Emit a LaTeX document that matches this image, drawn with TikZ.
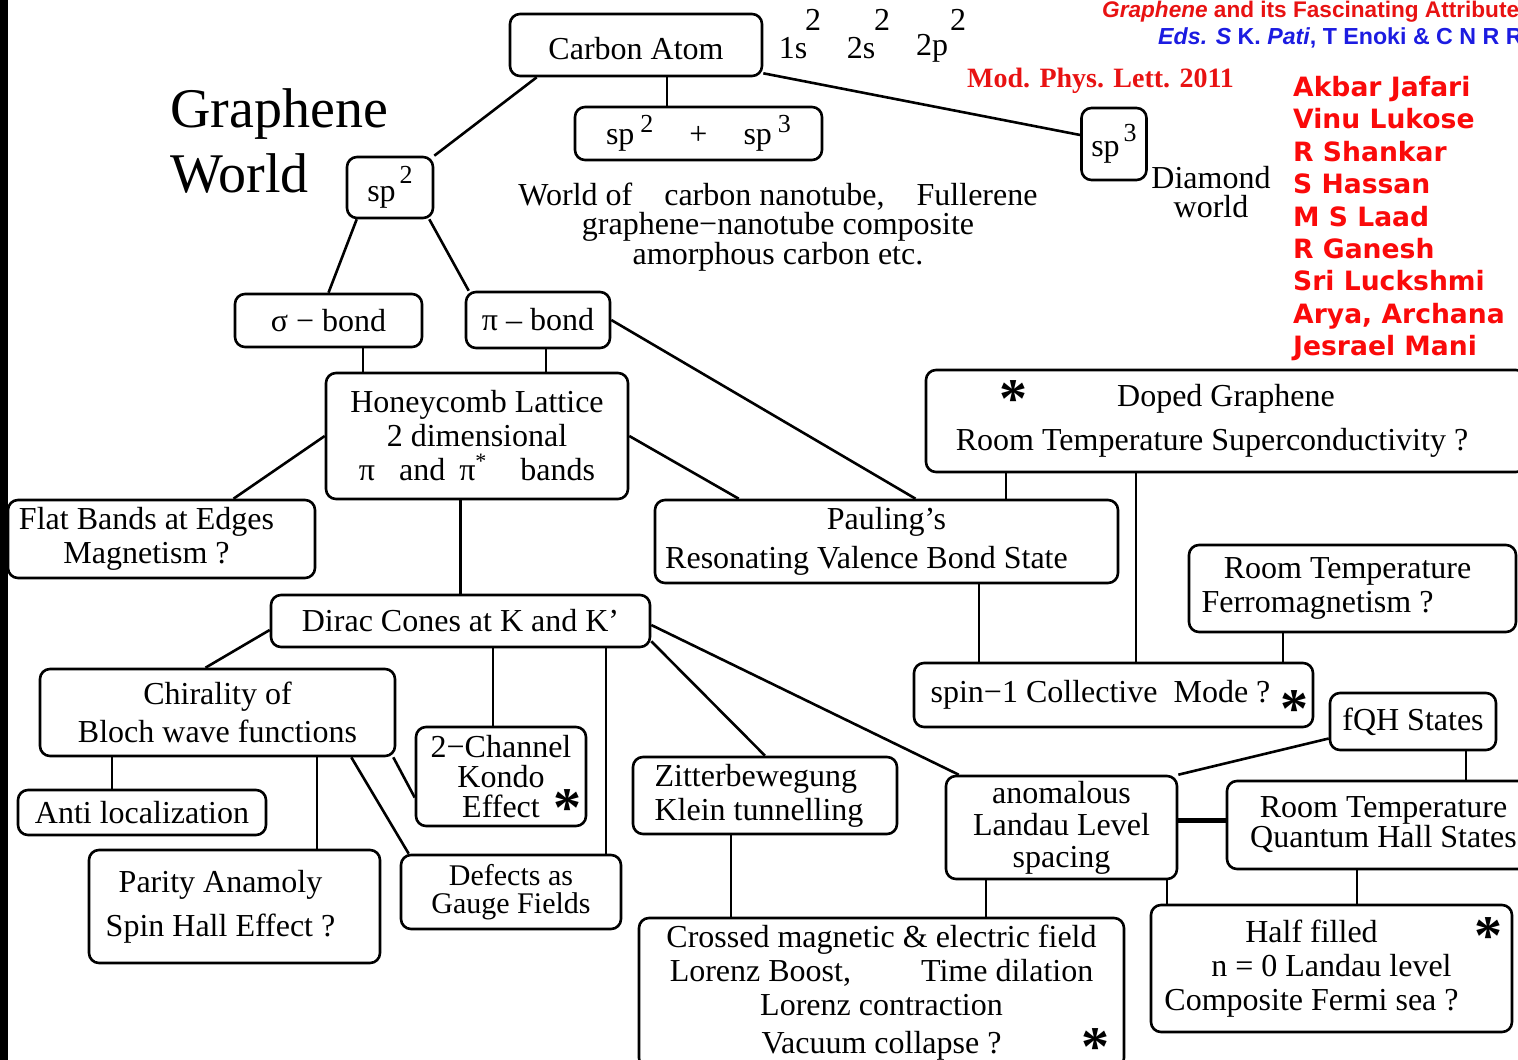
\documentclass[tikz,border=0pt]{standalone}
\usepackage{fontspec}
\setmainfont{Liberation Serif}
\newfontfamily\namefont{DejaVu Sans}
\newfontfamily\headfont{Liberation Sans}
\newcommand{\setfs}[2]{\fontsize{#1}{#2}\selectfont}
\newcommand{\sups}[2][12pt]{\raisebox{#1}{\setfs{26}{26}#2}}
\definecolor{titlered}{RGB}{232,18,18}
\definecolor{edsblue}{RGB}{28,28,225}
\definecolor{namered}{RGB}{250,10,10}
\tikzset{
  box/.style={draw, line width=2.6pt, rounded corners=10pt, inner sep=0pt, align=center, font=\setfs{32}{34}},
  dims/.style 2 args={minimum width=#1pt, minimum height=#2pt},
  link/.style={line width=2.6pt},
  plain/.style={inner sep=0pt, align=center, font=\setfs{32}{34}},
  astk/.style={inner sep=0pt, font=\setfs{56}{56}\bfseries},
}
\begin{document}
\begin{tikzpicture}[x=1pt, y=-1pt]
  \useasboundingbox (0,0) rectangle (1518,1060);
  \clip (0,0) rectangle (1518,1060);
  \fill (0,0) rectangle (8,1060);

  % headings
  \node[anchor=west, inner sep=0pt, align=left, font=\setfs{56}{65}] (title) at (170,141) {Graphene\\World};
  \node[anchor=base west, inner sep=0pt, text=titlered, font=\headfont\setfs{22.6}{22}\bfseries] (book) at (1102,17) {\textit{Graphene} and its Fascinating Attributes};
  \node[anchor=base west, inner sep=0pt, text=edsblue, font=\headfont\setfs{23.2}{22}\bfseries] (eds) at (1158,44) {\textit{Eds. S} K. \textit{Pati}, T Enoki \& C N R Rao};
  \node[anchor=west, inner sep=0pt, text=titlered, font=\setfs{28}{28}\bfseries] (journal) at (967,81) {Mod. Phys. Lett. 2011};
  \node[anchor=north west, inner sep=0pt, align=left, text=namered, font=\namefont\setfs{26.6}{32.4}\bfseries] (authors) at (1293,76)
    {Akbar Jafari\\Vinu Lukose\\R Shankar\\S Hassan\\M S Laad\\R Ganesh\\Sri Luckshmi\\Arya, Archana\\Jesrael Mani};

  % carbon and hybrids
  \node[box, dims={252}{62}] (carbon) at (636,45) {\raisebox{-3pt}[22pt][0pt]{Carbon Atom}};
  \foreach \x/\u/\o in {793/813/1s, 861/882/2s, 932/958/2p} {
    \node[plain] (cfg\o) at (\x,48) {\o};
    \node[plain] (up\o) at (\u,20) {2};
  }
  \node[box, dims={247}{53}] (mix) at (698.5,133.5) {sp\hspace{6pt}\sups{2}\hspace{36pt}+\hspace{36pt}sp\hspace{6pt}\sups{3}};
  \node[box, dims={86}{61}] (sptwo) at (390,187.5) {sp\hspace{4pt}\sups[18pt]{2}};
  \node[box, dims={65}{72}] (spthree) at (1114,144) {sp\hspace{4pt}\sups[15pt]{3}};
  \node[plain, font=\setfs{32}{29.5}] (worlds) at (778,227) {World of\quad carbon nanotube,\quad Fullerene\\graphene−nanotube composite\\amorphous carbon etc.};
  \node[plain, font=\setfs{32}{29}] (diamond) at (1211,192) {Diamond\\world};

  % bonds and lattice
  \node[box, dims={187}{53}] (sigma) at (328.5,320.5) {σ − bond};
  \node[box, dims={144}{56}] (pib) at (538,320) {π – bond};
  \node[box, dims={302}{126}] (honey) at (477,436) {Honeycomb Lattice\\2 dimensional\\π\hspace{24pt}and\hspace{14pt}π\raisebox{12pt}{\setfs{22}{22}*}\hspace{34pt}bands};
  \node[box, dims={307}{78}] (flat) at (161.5,539) {Flat Bands at Edges\hspace*{30pt}\\Magnetism ?\hspace*{30pt}};
  \node[box, dims={463}{83}] (pauling) at (886.5,541.5) {Pauling’s\\[5pt]Resonating Valence Bond State\hspace*{40pt}};
  \node[box, dims={600}{102}] (doped) at (1226,421) {Doped Graphene\\[10pt]Room Temperature Superconductivity ?\hspace*{28pt}};
  \node[box, dims={327}{87}] (ferro) at (1352.5,588.5) {Room Temperature\hspace*{10pt}\\Ferromagnetism ?\hspace*{70pt}};
  \node[box, dims={379}{52}] (dirac) at (460.5,621) {Dirac Cones at K and K’};
  \node[box, dims={399}{64}] (spin) at (1113.5,695) {spin−1 Collective\ \ Mode ?\hspace{26pt}};
  \node[box, dims={166}{57}] (fqh) at (1413,721.5) {fQH States};

  % lower level
  \node[box, dims={355}{87}] (chiral) at (217.5,712.5) {Chirality of\\[4pt]Bloch wave functions};
  \node[box, dims={170}{99}, font=\setfs{32}{30}] (kondo) at (501,776.5) {2−Channel\\Kondo\\Effect};
  \node[box, dims={264}{77}, align=left] (zitter) at (765,795.5) {Zitterbewegung\\Klein tunnelling\hspace*{12pt}};
  \node[box, dims={231}{103}, font=\setfs{32}{32}] (anom) at (1061.5,827.5) {anomalous\\Landau Level\\spacing};
  \node[box, dims={313}{88}, font=\setfs{32}{29}] (rtqh) at (1383.5,825) {Room Temperature\\Quantum Hall States};
  \node[box, dims={248}{45}] (anti) at (142,812.5) {Anti localization};
  \node[box, dims={291}{113}] (parity) at (234.5,906.5) {Parity Anamoly\hspace*{28pt}\\[10pt]Spin Hall Effect ?\hspace*{28pt}};
  \node[box, dims={220}{74}, font=\setfs{30}{28}] (defects) at (511,892) {Defects as\\Gauge Fields};
  \node[box, dims={485}{150}] (crossed) at (881.5,993) {Crossed magnetic \& electric field\\Lorenz Boost,\hspace{70pt}Time dilation\\Lorenz contraction\\[4pt]Vacuum collapse ?};
  \node[box, dims={361}{127}] (half) at (1331.5,968.5) {Half filled\hspace*{40pt}\\n = 0 Landau level\hspace*{40pt}\\Composite Fermi sea ?\hspace*{40pt}};

  % stars
  \node[astk] (stdoped) at (1013,399) {*};
  \node[astk] (stspin) at (1294,709) {*};
  \node[astk] (stkondo) at (567,808) {*};
  \node[astk] (stcrossed) at (1095,1047) {*};
  \node[astk] (sthalf) at (1488,936) {*};

  % connectors
  \draw[link] ([xshift=28pt]carbon.south west) -- (sptwo.north east);
  \draw[link] (carbon.south -| 667,0) -- (mix.north -| 667,0);
  \draw[link] ([yshift=4pt]carbon.south east) -- ([yshift=9pt]spthree.west);
  \draw[link] ([xshift=11pt]sptwo.south west) -- (sigma.north);
  \draw[link] ([xshift=-5pt]sptwo.south east) -- ([xshift=4pt]pib.north west);
  \draw[link] (sigma.south -| 363,0) -- (honey.north -| 363,0);
  \draw[link] (pib.south -| 546,0) -- (honey.north -| 546,0);
  \draw[link] (pib.east) -- ([xshift=29pt]pauling.north);
  \draw[link] (honey.west) -- ([xshift=72pt]flat.north);
  \draw[link] (honey.east) -- ([xshift=85pt]pauling.north west);
  \draw[link] (dirac.north) -- (dirac.north |- honey.south);
  \draw[link] (doped.south -| 1006,0) -- (pauling.north -| 1006,0);
  \draw[link] (doped.south -| 1136,0) -- (spin.north -| 1136,0);
  \draw[link] (pauling.south -| 979,0) -- (spin.north -| 979,0);
  \draw[link] (ferro.south -| 1283,0) -- (spin.north -| 1283,0);
  \draw[link] ([yshift=-9pt]dirac.west) -- ([xshift=-12pt]chiral.north);
  \draw[link] (dirac.south -| 493,0) -- (kondo.north -| 493,0);
  \draw[link] (dirac.south -| 606,0) -- (defects.north -| 606,0);
  \draw[link] ([yshift=7pt]dirac.south east) -- (zitter.north);
  \draw[link] ([yshift=-4pt]dirac.east) -- ([xshift=14pt]anom.north west);
  \draw[link] (chiral.south -| 112,0) -- (anti.north -| 112,0);
  \draw[link] (chiral.south -| 317,0) -- (parity.north -| 317,0);
  \draw[link] ([xshift=-45pt]chiral.south east) -- ([xshift=9pt]defects.north west);
  \draw[link] ([xshift=-3pt]chiral.south east) -- ([yshift=-21pt]kondo.west);
  \draw[link] ([yshift=-17pt]fqh.west) -- (anom.north east);
  \draw[link] (fqh.south -| 1466,0) -- (rtqh.north -| 1466,0);
  \draw[link, line width=4.5pt] ([yshift=7pt]anom.east) -- ([yshift=7pt]anom.east -| rtqh.west);
  \draw[link] (anom.south -| 986,0) -- (crossed.north -| 986,0);
  \draw[link] (anom.south -| 1167,0) -- (half.north -| 1167,0);
  \draw[link] (rtqh.south -| 1357,0) -- (half.north -| 1357,0);
  \draw[link] (zitter.south -| 731,0) -- (crossed.north -| 731,0);
\end{tikzpicture}
\end{document}
